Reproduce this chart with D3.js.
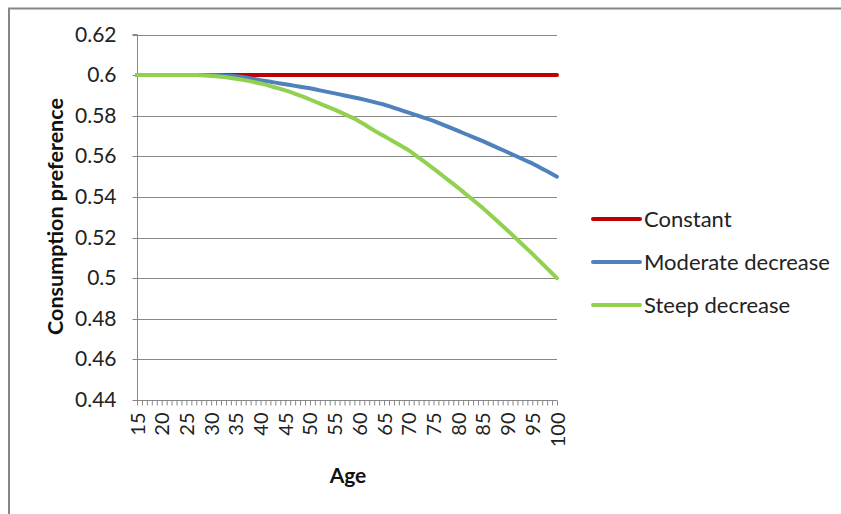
<!DOCTYPE html>
<html>
<head>
<meta charset="utf-8">
<script src="https://cdn.jsdelivr.net/npm/d3@7"></script>
<style>
  html, body { margin: 0; padding: 0; background: #fff; }
  svg { display: block; font-family: Lato, "Open Sans", sans-serif; }
</style>
</head>
<body>
<svg id="chart" width="841" height="514"></svg>
<script>
// ---- data ----
const ages = d3.range(15, 101); // 15 .. 100
const seriesNames = ["Constant", "Moderate decrease", "Steep decrease"];
const seriesColors = ["#C00000", "#4F81BD", "#92D050"];
const yTicks = [0.44, 0.46, 0.48, 0.5, 0.52, 0.54, 0.56, 0.58, 0.6, 0.62];
const xTickLabels = [15, 20, 25, 30, 35, 40, 45, 50, 55, 60, 65, 70, 75, 80, 85, 90, 95, 100];

const constant = ages.map(() => 0.6);

const moderate = [
  0.6, 0.6, 0.6, 0.6, 0.6, 0.6, 0.6, 0.6, 0.6, 0.6, 0.6, 0.6, 0.6, 0.6, 0.6, 0.6, // 15-30
  0.6, 0.5999, 0.5998, 0.5997, 0.5995, 0.5992, 0.5988, 0.5984, 0.5980, 0.5975,   // 31-40
  0.5971, 0.5967, 0.5963, 0.5959, 0.5955, 0.5951, 0.5947, 0.5943, 0.5939, 0.5935, // 41-50
  0.5930, 0.5925, 0.5920, 0.5915, 0.5910, 0.5905, 0.5900, 0.5895, 0.5890, 0.5885, // 51-60
  0.5879, 0.5873, 0.5867, 0.5861, 0.5855, 0.5847, 0.5839, 0.5831, 0.5823, 0.5815, // 61-70
  0.5807, 0.5799, 0.5791, 0.5783, 0.5775, 0.5765, 0.5755, 0.5745, 0.5735, 0.5725, // 71-80
  0.5715, 0.5705, 0.5695, 0.5685, 0.5675, 0.5664, 0.5653, 0.5642, 0.5631, 0.5620, // 81-90
  0.5609, 0.5598, 0.5587, 0.5576, 0.5565, 0.5552, 0.5539, 0.5526, 0.5513, 0.5500  // 91-100
];

const steep = [
  0.6, 0.6, 0.6, 0.6, 0.6, 0.6, 0.6, 0.6, 0.6, 0.6, 0.6, 0.6, 0.6,                // 15-27
  0.5999, 0.5998, 0.5996,                                                          // 28-30
  0.5994, 0.5992, 0.5989, 0.5986, 0.5982, 0.5978, 0.5974, 0.5969, 0.5964, 0.5959, // 31-40
  0.5953, 0.5946, 0.5939, 0.5932, 0.5925, 0.5917, 0.5908, 0.5899, 0.5890, 0.5880, // 41-50
  0.5870, 0.5860, 0.5850, 0.5840, 0.5830, 0.5819, 0.5808, 0.5797, 0.5786, 0.5772, // 51-60
  0.5758, 0.5742, 0.5727, 0.5713, 0.5700, 0.5686, 0.5672, 0.5658, 0.5644, 0.5630, // 61-70
  0.5612, 0.5594, 0.5576, 0.5558, 0.5540, 0.5521, 0.5502, 0.5483, 0.5464, 0.5445, // 71-80
  0.5425, 0.5405, 0.5385, 0.5365, 0.5345, 0.5323, 0.5301, 0.5279, 0.5257, 0.5235, // 81-90
  0.5212, 0.5189, 0.5166, 0.5143, 0.5120, 0.5096, 0.5072, 0.5048, 0.5024, 0.5000  // 91-100
];

const seriesValues = [constant, moderate, steep];

// ---- layout ----
const svg = d3.select("#chart");
const plot = { left: 137, right: 557, top: 34.5, bottom: 400 };

// outer border
svg.append("rect")
  .attr("x", 9).attr("y", 8.5)
  .attr("width", 900).attr("height", 600)
  .attr("fill", "#fff").attr("stroke", "#868686").attr("stroke-width", 2);

const x = d3.scalePoint().domain(ages).range([plot.left, plot.right]);
const y = d3.scaleLinear().domain([0.44, 0.62]).range([plot.bottom, plot.top]);

// gridlines
svg.append("g")
  .selectAll("line")
  .data(yTicks.filter(t => t > 0.44))
  .join("line")
  .attr("x1", plot.left).attr("x2", plot.right)
  .attr("y1", d => Math.round(y(d)) + 0.5).attr("y2", d => Math.round(y(d)) + 0.5)
  .attr("stroke", "#888").attr("stroke-width", 1);

// y axis
const yAxis = d3.axisLeft(y).tickValues(yTicks).tickSize(5).tickPadding(16)
  .tickFormat(d => d3.format("")(+d.toFixed(2)));
const gy = svg.append("g")
  .attr("transform", `translate(${plot.left + 0.5},0)`)
  .call(yAxis);
gy.select(".domain").attr("stroke", "#888").attr("d", `M-5,${plot.top}H0V${plot.bottom + 0.5}`);
gy.selectAll(".tick line").attr("stroke", "#888");
gy.selectAll(".tick text")
  .attr("fill", "#222").style("font-size", "21px").style("font-family", "Lato, sans-serif");
gy.selectAll(".tick").attr("transform", d => `translate(0,${Math.round(y(d)) + 0.5})`);

// x axis
const xAxis = d3.axisBottom(x).tickSize(5).tickFormat(d => xTickLabels.includes(d) ? d : "");
const gx = svg.append("g")
  .attr("transform", `translate(0,${plot.bottom + 0.5})`)
  .call(xAxis);
gx.select(".domain").attr("stroke", "#888").attr("d", `M${plot.left},0H${plot.right}`);
gx.selectAll(".tick line").attr("stroke", "#888");
gx.selectAll(".tick text")
  .attr("fill", "#222")
  .style("font-size", "20px").style("font-family", "Lato, sans-serif")
  .attr("transform", "rotate(-90)")
  .attr("text-anchor", "end")
  .attr("x", -12).attr("y", 0).attr("dy", "0.35em");

// lines
const line = d3.line().x((d, i) => x(ages[i])).y(d => y(d));
svg.append("g")
  .selectAll("path")
  .data(seriesValues)
  .join("path")
  .attr("d", d => line(d))
  .attr("fill", "none")
  .attr("stroke", (d, i) => seriesColors[i])
  .attr("stroke-width", 4)
  .attr("stroke-linejoin", "round")
  .attr("stroke-linecap", "round");

// axis titles
svg.append("text")
  .attr("x", 348).attr("y", 483)
  .attr("text-anchor", "middle")
  .style("font-size", "21px").style("font-weight", "bold").attr("fill", "#111")
  .text("Age");
svg.append("text")
  .attr("transform", "translate(63,216.5) rotate(-90)")
  .attr("text-anchor", "middle")
  .style("font-size", "21.5px").style("font-weight", "bold").attr("fill", "#111")
  .text("Consumption preference");

// legend
const legendY = [219, 262, 305];
const lg = svg.append("g")
  .selectAll("g")
  .data(seriesNames)
  .join("g")
  .attr("transform", (d, i) => `translate(593,${legendY[i]})`);
lg.append("line")
  .attr("x1", 0).attr("x2", 47).attr("y1", 0).attr("y2", 0)
  .attr("stroke", (d, i) => seriesColors[i]).attr("stroke-width", 4).attr("stroke-linecap", "round");
lg.append("text")
  .attr("x", 51).attr("y", 0).attr("dy", "0.35em")
  .style("font-size", "22px").attr("fill", "#222")
  .text(d => d);
</script>
</body>
</html>
